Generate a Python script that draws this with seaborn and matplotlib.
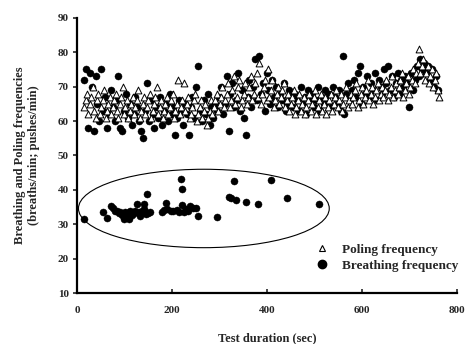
import numpy as np
import pandas as pd
import matplotlib
matplotlib.use("Agg")
import matplotlib.pyplot as plt
from matplotlib.patches import Ellipse
from matplotlib.lines import Line2D
import seaborn as sns

# ---------------- data ----------------
# Poling frequency (pushes/min), sampled every 3 s starting at 15 s
poling_start, poling_step = 15, 3
poling_values = [
    64, 66, 68, 62, 65, 67, 70, 63, 61, 66,
    68, 62, 64, 66, 69, 61, 63, 65, 67, 62,
    64, 66, 68, 63, 61, 65, 67, 70, 62, 64,
    66, 61, 63, 65, 67, 62, 64, 66, 69, 61,
    63, 65, 67, 62, 64, 66, 68, 61, 63, 65,
    67, 70, 62, 64, 66, 61, 63, 65, 67, 62,
    64, 66, 68, 61, 63, 65, 72, 62, 64, 66,
    71, 63, 65, 67, 61, 62, 64, 66, 68, 60,
    62, 64, 66, 61, 63, 65, 59, 61, 63, 66,
    62, 64, 66, 68, 63, 65, 67, 70, 64, 66,
    68, 71, 64, 66, 69, 73, 65, 67, 70, 72,
    64, 66, 68, 71, 65, 67, 70, 73, 66, 68,
    71, 74, 67, 77, 65, 68, 70, 72, 66, 75,
    67, 69, 72, 64, 66, 68, 70, 65, 67, 69,
    71, 64, 66, 68, 63, 65, 67, 69, 62, 64,
    66, 68, 63, 65, 67, 62, 64, 66, 68, 63,
    65, 67, 69, 62, 64, 66, 68, 63, 65, 67,
    62, 64, 66, 68, 63, 65, 67, 69, 64, 66,
    68, 63, 65, 67, 70, 64, 66, 68, 65, 67,
    69, 71, 64, 66, 68, 70, 65, 67, 69, 72,
    66, 68, 70, 65, 67, 69, 71, 66, 68, 70,
    67, 69, 72, 66, 68, 70, 73, 67, 69, 71,
    68, 70, 72, 74, 67, 69, 71, 73, 68, 70,
    72, 75, 71, 74, 77, 81, 74, 76, 78, 72,
    74, 76, 71, 73, 75, 70, 72, 74, 69, 67,
]

# Breathing frequency (breaths/min), upper band, every 4 s starting at 15 s
breath_start, breath_step = 15, 4
breath_values = [
    72, 75, 58, 74, 70, 57, 73, 65, 60, 75,
    63, 67, 58, 62, 69, 64, 60, 66, 73, 58,
    57, 63, 68, 61, 65, 59, 62, 67, 64, 60,
    57, 55, 63, 71, 60, 66, 62, 58, 64, 61,
    67, 59, 63, 65, 60, 68, 62, 64, 56, 61,
    66, 63, 59, 65, 62, 56, 64, 67, 61, 70,
    76, 63, 60, 66, 62, 68, 59, 64, 61, 65,
    63, 67, 70, 62, 65, 73, 57, 68, 71, 64,
    66, 74, 63, 69, 61, 56, 67, 72, 64, 70,
    78, 66, 79, 68, 71, 63, 74, 69, 65, 72,
    67, 70, 64, 68, 66, 71, 63, 65, 69, 67,
    64, 68, 66, 63, 70, 65, 67, 62, 69, 66,
    68, 64, 66, 70, 63, 67, 65, 69, 66, 68,
    64, 70, 67, 65, 69, 63, 79, 62, 68, 71,
    66, 69, 72, 67, 74, 76, 65, 70, 68, 73,
    67, 71, 69, 74, 66, 72, 70, 68, 75, 71,
    76, 69, 73, 67, 71, 74, 68, 72, 70, 73,
    71, 64, 74, 69, 72, 76, 73, 78, 75, 77,
    74, 76, 72, 75, 70, 73, 69,
]

# Breathing frequency, low cluster (circled)
low_times = [15, 54, 62, 71, 76, 80, 84, 88, 90, 95, 99, 102, 105, 108, 110,
             111, 115, 119, 122, 127, 130, 133, 137, 140, 141, 145, 148, 149,
             153, 178, 183, 187, 190, 197, 203, 210, 214, 218, 220, 222, 225,
             230, 234, 238, 245, 250, 255, 295, 320, 325, 330, 335, 356, 380,
             408, 441, 509]
low_values = [31.4, 33.6, 31.9, 35.3, 34.6, 34.0, 33.9, 33.2, 33.6, 32.8, 31.4,
              33.5, 33.2, 32.0, 31.4, 33.9, 32.6, 33.2, 34.0, 35.9, 33.5, 32.4,
              33.8, 34.3, 35.9, 33.0, 38.8, 33.2, 33.7, 33.6, 34.2, 36.1, 34.4,
              34.0, 33.8, 34.1, 33.5, 43.2, 40.4, 35.6, 33.6, 34.4, 34.0, 35.3,
              34.8, 34.6, 32.4, 32.0, 37.8, 37.7, 42.6, 37.2, 36.4, 35.8, 42.9,
              37.5, 35.9]

# ellipse (data units)
ell_center = (267, 34.6)
ell_size = (528, 22.8)

x_ticks = [0, 200, 400, 600, 800]
y_ticks = [10, 20, 30, 40, 50, 60, 70, 80, 90]

# ---------------- frames ----------------
poling_t = poling_start + poling_step * np.arange(len(poling_values))
breath_t = breath_start + breath_step * np.arange(len(breath_values))
df_pole = pd.DataFrame({"t": poling_t, "f": poling_values})
df_breath = pd.DataFrame({"t": np.concatenate([breath_t, low_times]),
                          "f": np.concatenate([breath_values, low_values])})

# ---------------- plot ----------------
sns.set_style("ticks")
plt.rcParams["font.family"] = ["Liberation Serif", "DejaVu Serif"]
plt.rcParams["font.weight"] = "bold"

fig = plt.figure(figsize=(4.67, 3.44), dpi=100)
ax = fig.add_axes([0.165, 0.148, 0.8136, 0.800])

sns.scatterplot(data=df_breath, x="t", y="f", ax=ax, marker="o", s=26,
                color="black", edgecolor="black", linewidth=0.3, zorder=2,
                legend=False)
sns.scatterplot(data=df_pole, x="t", y="f", ax=ax, marker="^", s=24,
                facecolor="white", edgecolor="black", linewidth=0.7, zorder=3,
                legend=False)

ax.set_xlim(0, 800)
ax.set_ylim(10, 90)

ax.add_patch(Ellipse(xy=ell_center, width=ell_size[0], height=ell_size[1],
                     angle=0, fill=False, edgecolor="black", linewidth=0.8,
                     zorder=1, transform=ax.transData))

ax.set_xticks(x_ticks)
ax.set_yticks(y_ticks)
ax.set_xticklabels([str(v) for v in x_ticks], fontsize=8, fontweight="bold")
ax.set_yticklabels([str(v) for v in y_ticks], fontsize=8, fontweight="bold")
ax.tick_params(axis="x", direction="in", length=3, width=1.2, pad=9)
ax.tick_params(axis="y", direction="out", length=3, width=1.2, pad=3)
for side in ["top", "right"]:
    ax.spines[side].set_visible(False)
for side in ["left", "bottom"]:
    ax.spines[side].set_linewidth(1.6)
    ax.spines[side].set_color("black")

ax.set_xlabel("Test duration (sec)", fontsize=9, fontweight="bold", labelpad=13)
ax.set_ylabel("Breathing and Poling frequencies\n(breaths/min; pushes/min)",
              fontsize=9, fontweight="bold", labelpad=13)

handles = [
    Line2D([], [], marker="^", linestyle="none", markersize=5,
           markerfacecolor="white", markeredgecolor="black", markeredgewidth=0.8),
    Line2D([], [], marker="o", linestyle="none", markersize=6,
           markerfacecolor="black", markeredgecolor="black"),
]
ax.legend(handles, ["Poling frequency", "Breathing frequency"], loc="lower right",
          bbox_to_anchor=(1.035, 0.035), frameon=False,
          prop={"family": "Liberation Serif", "weight": "bold", "size": 9.5},
          handletextpad=0.9, labelspacing=0.25, handlelength=1.2)

fig.savefig("out.png", dpi=100)
